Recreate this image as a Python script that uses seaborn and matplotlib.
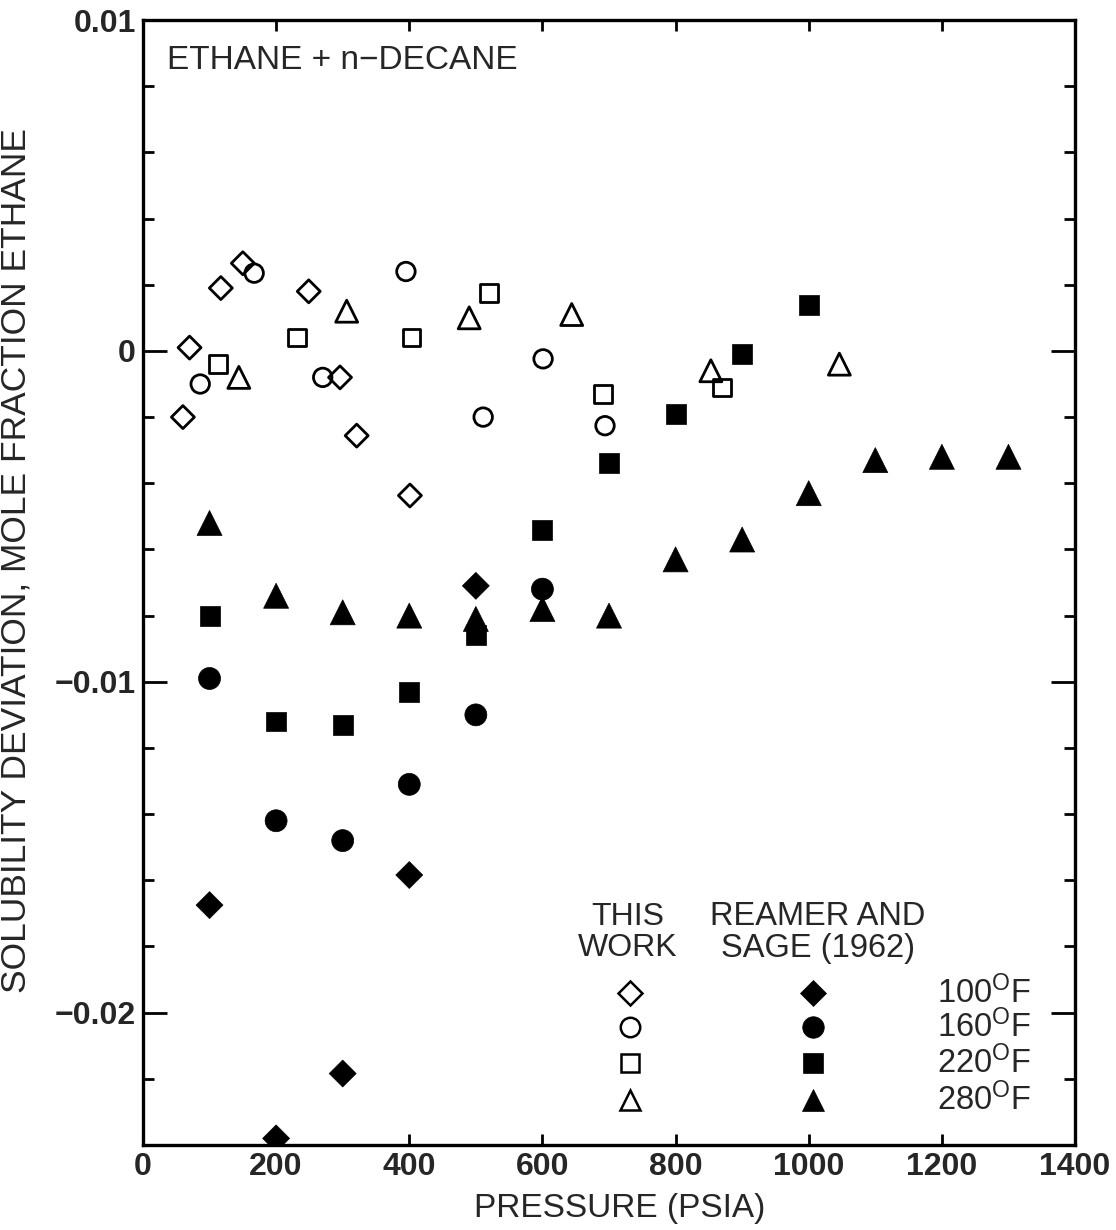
import numpy as np
import pandas as pd
import matplotlib
matplotlib.use("Agg")
import matplotlib.pyplot as plt
import seaborn as sns
from matplotlib.ticker import MultipleLocator, FuncFormatter

# ---------------- data ----------------
temps = ["100", "160", "220", "280"]

# This work (open symbols): pressure (psia), deviation (mole fraction ethane)
tw_100_p = [60, 70, 117, 150, 249, 296, 321, 401]
tw_100_d = [-0.0020, 0.0001, 0.0019, 0.00265, 0.0018, -0.0008, -0.00256, -0.00437]
tw_160_p = [86, 167, 270, 395, 511, 601, 694]
tw_160_d = [-0.0010, 0.00235, -0.0008, 0.0024, -0.0020, -0.00024, -0.00226]
tw_220_p = [113, 231, 403, 520, 691, 870]
tw_220_d = [-0.0004, 0.0004, 0.0004, 0.00175, -0.0013, -0.0011]
tw_280_p = [144, 306, 490, 644, 853, 1046]
tw_280_d = [-0.0008, 0.0012, 0.0010, 0.0011, -0.0006, -0.0004]

# Reamer and Sage (1962) (filled symbols)
rs_100_p = [100, 200, 300, 400, 500]
rs_100_d = [-0.01675, -0.0238, -0.02184, -0.01584, -0.0071]
rs_160_p = [100, 200, 300, 400, 500, 600]
rs_160_d = [-0.0099, -0.0142, -0.0148, -0.0131, -0.0110, -0.0072]
rs_220_p = [100, 200, 300, 400, 500, 600, 700, 800, 900, 1000]
rs_220_d = [-0.0080, -0.0112, -0.0113, -0.0103, -0.0086, -0.0054, -0.0034,
            -0.0019, -0.0001, 0.0014]
rs_280_p = [100, 200, 300, 400, 500, 600, 700, 800, 900, 1000, 1100, 1200, 1300]
rs_280_d = [-0.0052, -0.0074, -0.0079, -0.0080, -0.0081, -0.0078, -0.0080,
            -0.0063, -0.0057, -0.0043, -0.0033, -0.0032, -0.0032]

x_ticks = [0, 200, 400, 600, 800, 1000, 1200, 1400]
y_tick_labels = {0.01: "0.01", 0.0: "0", -0.01: "\u22120.01", -0.02: "\u22120.02"}


def frame(src, pairs):
    rows = []
    for t, (p, d) in zip(temps, pairs):
        for pi, di in zip(p, d):
            rows.append({"pressure": pi, "deviation": di, "temp": t, "source": src})
    return pd.DataFrame(rows)


df_tw = frame("This work", [(tw_100_p, tw_100_d), (tw_160_p, tw_160_d),
                            (tw_220_p, tw_220_d), (tw_280_p, tw_280_d)])
df_rs = frame("Reamer and Sage (1962)", [(rs_100_p, rs_100_d), (rs_160_p, rs_160_d),
                                         (rs_220_p, rs_220_d), (rs_280_p, rs_280_d)])

# ---------------- style ----------------
sns.set_style("ticks")
plt.rcParams["font.family"] = ["Liberation Sans", "DejaVu Sans"]
plt.rcParams["mathtext.fontset"] = "custom"
plt.rcParams["mathtext.rm"] = "Liberation Sans"
plt.rcParams["mathtext.it"] = "Liberation Sans"

markers = {"100": "D", "160": "o", "220": "s", "280": "^"}
open_sizes = {"100": 137, "160": 177, "220": 159, "280": 250}
fill_sizes = {"100": 188, "160": 250, "220": 207, "280": 324}

fig = plt.figure(figsize=(11.16, 12.30), dpi=100)
ax = fig.add_axes([0.1281, 0.0691, 0.9633 - 0.1281, 0.9837 - 0.0691])

sns.scatterplot(data=df_tw, x="pressure", y="deviation", style="temp",
                style_order=temps, markers=markers, size="temp", size_order=temps,
                sizes=open_sizes, color="black", facecolor="none",
                edgecolor="black", linewidth=2.0, legend=False, ax=ax, zorder=3)
sns.scatterplot(data=df_rs, x="pressure", y="deviation", style="temp",
                style_order=temps, markers=markers, size="temp", size_order=temps,
                sizes=fill_sizes, color="black", facecolor="black",
                edgecolor="black", linewidth=0.5, legend=False, ax=ax, zorder=3)

ax.set_xlim(0, 1400)
ax.set_ylim(-0.024, 0.01)

ax.xaxis.set_major_locator(plt.FixedLocator(x_ticks))
ax.set_xticklabels([str(v) for v in x_ticks])
ax.yaxis.set_major_locator(plt.FixedLocator(list(y_tick_labels.keys())))
ax.yaxis.set_major_formatter(FuncFormatter(
    lambda v, pos: y_tick_labels.get(round(v, 4), "")))
ax.yaxis.set_minor_locator(MultipleLocator(0.002))

for s in ax.spines.values():
    s.set_linewidth(2.4)
    s.set_color("black")

ax.tick_params(axis="both", which="both", direction="in", top=True, right=True,
               width=2.0, color="black")
ax.tick_params(axis="x", which="major", length=8, pad=5, labelsize=23)
ax.tick_params(axis="y", which="major", length=17, pad=5, labelsize=23)
ax.tick_params(axis="y", which="minor", length=8)
for lab in ax.get_xticklabels() + ax.get_yticklabels():
    lab.set_fontweight("bold")

ax.set_xlabel("PRESSURE (PSIA)", fontsize=24)
ax.xaxis.set_label_coords(0.512, -0.043)
ax.set_ylabel("SOLUBILITY DEVIATION, MOLE FRACTION ETHANE", fontsize=25.5)
ax.yaxis.set_label_coords(-0.118, 0.52)

ax.text(0.026, 0.9644, "ETHANE + n\u2212DECANE", transform=ax.transAxes,
        fontsize=24, ha="left", va="center")

# ---------------- legend (manual) ----------------
ax.text(0.520, 0.189, "THIS\nWORK", transform=ax.transAxes, fontsize=23,
        ha="center", va="center", linespacing=1.05)
ax.text(0.724, 0.189, "REAMER AND\nSAGE (1962)", transform=ax.transAxes,
        fontsize=23.5, ha="center", va="center", linespacing=1.05)
row_y = [0.1351, 0.1049, 0.0729, 0.0400]
leg_ms = {"100": 12, "160": 14, "220": 13, "280": 15}
for t, yy in zip(temps, row_y):
    ax.plot([0.5225], [yy], marker=markers[t], ms=leg_ms[t], mfc="none",
            mec="black", mew=1.8, ls="none", transform=ax.transAxes, clip_on=False)
    ax.plot([0.719], [yy], marker=markers[t], ms=leg_ms[t] + 1.5, mfc="black",
            mec="black", mew=0.5, ls="none", transform=ax.transAxes, clip_on=False)
    ax.text(0.852, yy, t + r"$^{\mathrm{O}}$F", transform=ax.transAxes,
            fontsize=23.5, ha="left", va="center")

fig.savefig("out.png", dpi=100)
